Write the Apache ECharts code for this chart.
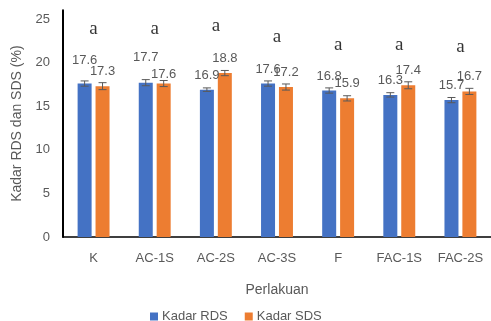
<!DOCTYPE html>
<html><head><meta charset="utf-8">
<script src="https://cdn.jsdelivr.net/npm/echarts@6/dist/echarts.min.js"></script>
<style>html,body{margin:0;padding:0;background:#fff}#c{width:491px;height:321px}</style>
</head><body><div id="c"></div>
<script>
var categories = ['K','AC-1S','AC-2S','AC-3S','F','FAC-1S','FAC-2S'];
var rdsValues = [17.6, 17.7, 16.9, 17.6, 16.8, 16.3, 15.7];
var sdsValues = [17.3, 17.6, 18.8, 17.2, 15.9, 17.4, 16.7];
var rdsErrors = [0.3, 0.35, 0.2, 0.3, 0.3, 0.25, 0.3];
var sdsErrors = [0.4, 0.35, 0.3, 0.35, 0.3, 0.4, 0.35];
var letters = ['a','a','a','a','a','a','a'];
var letterLevels = [23.9, 23.9, 24.2, 22.9, 22.0, 22.0, 21.8];
var yTicks = [0, 5, 10, 15, 20, 25];

var BAR_W = 14, GAP = 0.28;
var SHIFT = BAR_W * (1 + GAP) / 2;
var rdsLabelNudge = {0: -9, 1: -11};
var sdsLabelNudge = {1: 5};

function barData(vals, nudge) {
  return vals.map(function (v, i) {
    var d = {value: v};
    if (nudge[i] !== undefined) d.label = {offset: [0, nudge[i]]};
    return d;
  });
}
function errSeries(vals, errs, sign) {
  return {
    type: 'custom', z: 5,
    data: vals.map(function (v, i) { return [i, v - errs[i], v + errs[i]]; }),
    renderItem: function (params, api) {
      var lo = api.coord([api.value(0), api.value(1)]);
      var hi = api.coord([api.value(0), api.value(2)]);
      var x = lo[0] + sign * SHIFT;
      var cw = 4;
      var st = {stroke: '#595959', lineWidth: 1};
      return {type: 'group', children: [
        {type: 'line', shape: {x1: x, y1: lo[1], x2: x, y2: hi[1]}, style: st},
        {type: 'line', shape: {x1: x - cw, y1: lo[1], x2: x + cw, y2: lo[1]}, style: st},
        {type: 'line', shape: {x1: x - cw, y1: hi[1], x2: x + cw, y2: hi[1]}, style: st}
      ]};
    }
  };
}

var labelStyle = {show: true, position: 'top', distance: 8, color: '#595959', fontSize: 13,
  fontFamily: 'Liberation Sans', formatter: function (p) { return p.value.toFixed(1); }};

var chart = echarts.init(document.getElementById('c'), null, {renderer: 'canvas'});
chart.setOption({
  animation: false,
  textStyle: {fontFamily: 'Liberation Sans'},
  grid: {left: 63, top: 10.3, width: 437.5, bottom: 84, containLabel: false},
  legend: {
    left: 145, top: 305, itemWidth: 8, itemHeight: 8, itemGap: 17,
    icon: 'rect', textStyle: {color: '#595959', fontSize: 13, padding: [0, 0, 0, -1]},
    data: ['Kadar RDS', 'Kadar SDS']
  },
  xAxis: {
    type: 'category', data: categories,
    name: 'Perlakuan', nameLocation: 'middle', nameGap: 46,
    nameTextStyle: {color: '#595959', fontSize: 14},
    axisLine: {lineStyle: {color: '#000', width: 1.5}},
    axisTick: {show: false},
    axisLabel: {color: '#595959', fontSize: 13, margin: 15}
  },
  yAxis: {
    type: 'value', min: 0, max: 26, interval: 5,
    name: 'Kadar RDS dan SDS (%)', nameLocation: 'middle', nameGap: 37,
    nameTextStyle: {color: '#595959', fontSize: 14},
    axisLine: {show: true, lineStyle: {color: '#000', width: 2}},
    axisTick: {show: false},
    splitLine: {show: false},
    axisLabel: {color: '#595959', fontSize: 13, margin: 13,
      formatter: function (v) { return yTicks.indexOf(v) >= 0 ? String(v) : ''; }}
  },
  series: [
    {name: 'Kadar RDS', type: 'bar', barWidth: BAR_W, barGap: (GAP * 100) + '%',
     itemStyle: {color: '#4472C4'}, label: labelStyle, data: barData(rdsValues, rdsLabelNudge)},
    {name: 'Kadar SDS', type: 'bar', barWidth: BAR_W,
     itemStyle: {color: '#ED7D31'}, label: labelStyle, data: barData(sdsValues, sdsLabelNudge)},
    errSeries(rdsValues, rdsErrors, -1),
    errSeries(sdsValues, sdsErrors, 1),
    {type: 'scatter', symbolSize: 0, z: 6,
     data: letterLevels.map(function (v, i) { return [i, v]; }),
     label: {show: true, position: 'inside', color: '#000', fontSize: 19,
       fontFamily: 'Liberation Serif',
       formatter: function (p) { return letters[p.dataIndex]; }}}
  ]
});
</script></body></html>
